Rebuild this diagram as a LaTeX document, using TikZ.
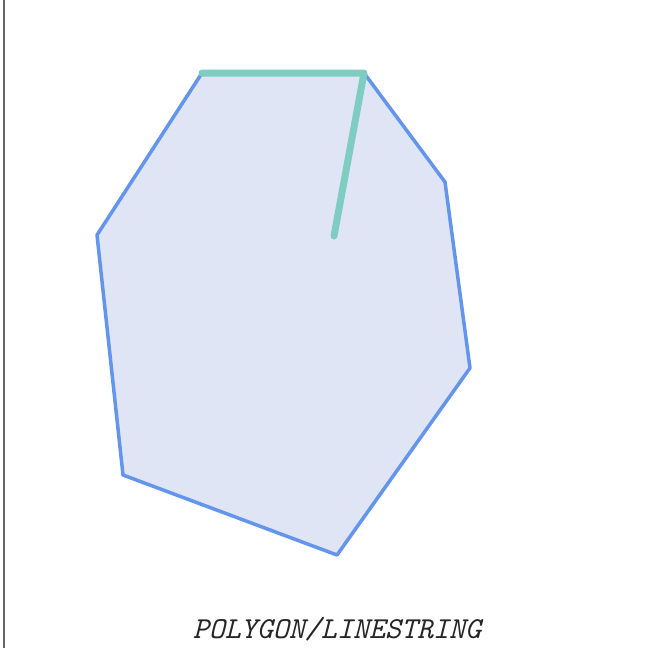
\documentclass[tikz,border=0pt]{standalone}
\definecolor{polyfill}{HTML}{DFE5F5}
\definecolor{polyline}{HTML}{6495ED}
\definecolor{lsline}{HTML}{7FCDC0}
\definecolor{axis}{HTML}{666666}
\begin{document}
\begin{tikzpicture}[x=1pt,y=-1pt,
  polystyle/.style={fill=polyfill,draw=polyline,line width=3.5pt,line join=round},
  lsstyle/.style={draw=lsline,line width=7pt,line cap=round,line join=round},
  axisstyle/.style={draw=axis,line width=1.5pt},
  captionstyle/.style={font=\ttfamily\itshape\fontsize{30.5}{34}\selectfont,text=black!85}]
\useasboundingbox (0,0) rectangle (664,648);
\coordinate (p1) at (202,73);
\coordinate (p2) at (364,73);
\coordinate (p3) at (445,182);
\coordinate (p4) at (470,368);
\coordinate (p5) at (337,555);
\coordinate (p6) at (123,475);
\coordinate (p7) at (97,235);
\coordinate (l3) at (334,236);
\coordinate (a1) at (4,0);
\coordinate (a2) at (4,648);
\draw[axisstyle] (a1) -- (a2);
\path[polystyle] (p1) -- (p2) -- (p3) -- (p4) -- (p5) -- (p6) -- (p7) -- cycle;
\draw[lsstyle] (p1) -- (p2) -- (l3);
\node[captionstyle,inner sep=0pt] (cap) at (337,629) {POLYGON/LINESTRING};
\end{tikzpicture}
\end{document}
